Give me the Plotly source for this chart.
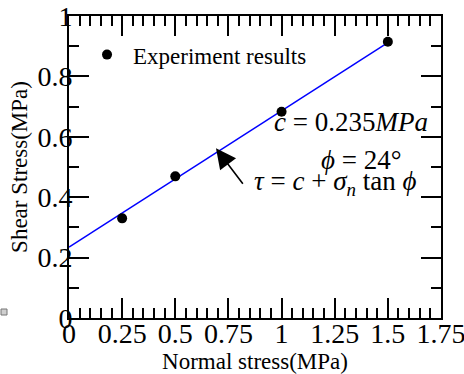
import plotly.graph_objects as go

# Data
exp_sigma = [0.25, 0.5, 1.0, 1.5]
exp_tau = [0.33, 0.469, 0.683, 0.915]
fit_sigma = [0.0, 1.5]
fit_tau = [0.235, 0.912]

x_ticks = [0, 0.25, 0.5, 0.75, 1, 1.25, 1.5, 1.75]
x_tick_labels = ["0", "0.25", "0.5", "0.75", "1", "1.25", "1.5", "1.75"]
y_ticks = [0, 0.2, 0.4, 0.6, 0.8, 1]
y_tick_labels = ["0", "0.2", "0.4", "0.6", "0.8", "1"]

FONT = "Liberation Serif"

fig = go.Figure()
fig.add_trace(go.Scatter(
    x=fit_sigma, y=fit_tau, mode="lines",
    line=dict(color="#0000ff", width=1.5), showlegend=False, hoverinfo="skip"))
fig.add_trace(go.Scatter(
    x=exp_sigma, y=exp_tau, mode="markers", name="Experiment results",
    marker=dict(color="black", size=10, line=dict(width=0))))

axis_common = dict(
    showline=True, linecolor="black", linewidth=2, mirror="ticks",
    ticks="inside", ticklen=20, tickwidth=2, tickcolor="black",
    showgrid=False, zeroline=False, automargin=False,
    ticklabeloverflow="allow",
    tickfont=dict(family=FONT, size=28, color="black"),
)

fig.update_xaxes(
    range=[0, 1.75], tickmode="array", tickvals=x_ticks, ticktext=x_tick_labels,
    ticklabelstandoff=-11,
    minor=dict(dtick=0.05, ticklen=10, tickwidth=2, tickcolor="black", ticks="inside", showgrid=False),
    title=dict(text="Normal stress(MPa)", font=dict(family=FONT, size=23, color="black"), standoff=1),
    **axis_common)
fig.update_yaxes(
    range=[0, 1], tickmode="array", tickvals=y_ticks, ticktext=y_tick_labels,
    ticklabelstandoff=-11,
    minor=dict(dtick=0.1, ticklen=10, tickwidth=2, tickcolor="black", ticks="inside", showgrid=False),
    title=dict(text="Shear Stress(MPa)", font=dict(family=FONT, size=23, color="black"), standoff=3),
    **axis_common)

fig.add_annotation(x=1.70, y=0.648, xref="x", yref="y", text="<i>c</i> = 0.235<i>MPa</i>",
                   showarrow=False, xanchor="right", yanchor="middle",
                   font=dict(family=FONT, size=27, color="black"))
fig.add_annotation(x=1.575, y=0.524, xref="x", yref="y", text="<i>ϕ</i> = 24°",
                   showarrow=False, xanchor="right", yanchor="middle",
                   font=dict(family=FONT, size=27, color="black"))
fig.add_annotation(x=1.64, y=0.446, xref="x", yref="y",
                   text="<i>τ</i> = <i>c</i> + <i>σ</i><sub><i>n</i></sub> tan <i>ϕ</i>",
                   showarrow=False, xanchor="right", yanchor="middle",
                   font=dict(family=FONT, size=27, color="black"))
# arrow
fig.add_annotation(x=0.6915, y=0.562, xref="x", yref="y", text="",
                   showarrow=True, arrowhead=2, arrowwidth=1.6, arrowsize=2.5,
                   arrowcolor="black", ax=28, ay=37, standoff=0)

# small grey square at the far left edge
fig.add_shape(type="rect", xref="paper", yref="paper",
              x0=(1 - 69) / 372, x1=(7 - 69) / 372,
              y0=(318 - 315) / 302, y1=(318 - 309) / 302,
              fillcolor="#cfcfcf", line=dict(color="#777777", width=1))

fig.update_layout(
    width=464, height=374,
    margin=dict(l=69, r=23, t=16, b=56, autoexpand=False),
    paper_bgcolor="white", plot_bgcolor="white",
    font=dict(family=FONT, color="black"),
    legend=dict(x=0.0323, y=0.872, xanchor="left", yanchor="middle",
                itemwidth=42,
                bgcolor="rgba(0,0,0,0)", borderwidth=0,
                font=dict(family=FONT, size=23, color="black")),
)

fig.write_html("out.html", config={"displayModeBar": False},
               post_script="document.body.style.margin='0px';")
